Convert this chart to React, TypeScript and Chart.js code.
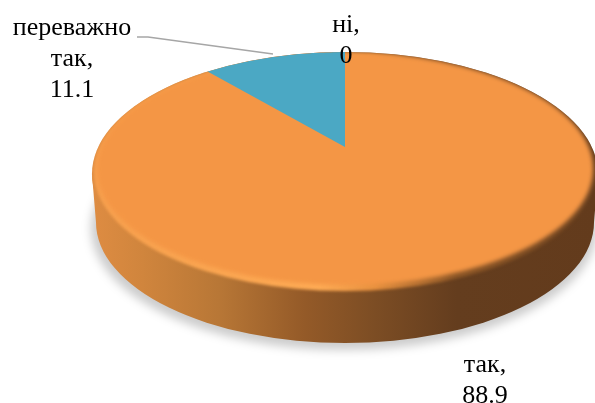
import React, { useEffect, useRef } from "react";
import { Chart, registerables } from "chart.js";

Chart.register(...registerables);

const categories = ["так", "переважно так", "ні"];
const values = [88.9, 11.1, 0];
const sliceColors = ["#F49645", "#4BA8C4", "#9BBB59"];

const W = 595;
const H = 403;
const PERSP = 0.2017;
const KX = 1.686;
const KY = 0.777;

type Lbl = { lines: string[]; x: number; y: number };
const labelLayout: Lbl[] = [
  { lines: ["так,", "88.9"], x: 485, y: 372 },
  { lines: ["переважно", "так,", "11.1"], x: 72, y: 35 },
  { lines: ["ні,", "0"], x: 346, y: 32 },
];

const piePlugin = {
  id: "perspectivePie",
  beforeDatasetsDraw(chart: any) {
    const ctx: CanvasRenderingContext2D = chart.ctx;
    const arcs = chart.getDatasetMeta(0).data;
    const { x: cx, y: cy, outerRadius: r } = arcs[0];
    const R = r * KX;
    const Q = r * KY;
    const den = 1 - PERSP * PERSP;
    const rx = R / Math.sqrt(den);
    const ry = Q / den;
    const ey = cy + (Q * PERSP) / den;
    const ell = (dy: number, drx = 0, dry = 0) => {
      ctx.beginPath();
      ctx.ellipse(cx, ey + dy, rx + drx, ry + dry, 0, 0, Math.PI * 2);
    };
    const pt = (a: number) => {
      const u = Math.cos(a);
      const v = Math.sin(a);
      const w = 1 - PERSP * v;
      return [cx + (R * u) / w, cy + (Q * v) / w];
    };

    // soft shadow
    ctx.save();
    ctx.filter = "blur(5px)";
    ctx.fillStyle = "rgba(0,0,0,0.2)";
    ctx.beginPath();
    ctx.ellipse(cx - 1, ey + 57, rx, ry + 3, 0, 0, Math.PI * 2);
    ctx.fill();
    ctx.restore();

    // side wall
    const side = ctx.createLinearGradient(cx - rx, 0, cx + rx, 0);
    side.addColorStop(0, "#DE8C42");
    side.addColorStop(0.1, "#D0853D");
    side.addColorStop(0.25, "#B87736");
    side.addColorStop(0.42, "#945A28");
    side.addColorStop(0.56, "#7C4D24");
    side.addColorStop(0.72, "#643D1E");
    side.addColorStop(1, "#633B1C");
    ctx.fillStyle = side;
    ctx.beginPath();
    ctx.moveTo(cx - rx, ey + 3);
    ctx.lineTo(cx - rx + 4, ey + 51);
    ctx.ellipse(cx, ey + 51, rx - 4, ry + 2, 0, Math.PI, 0, true);
    ctx.lineTo(cx + rx, ey + 3);
    ctx.closePath();
    ctx.fill();
    ell(3, 0, 3);
    ctx.fill();

    // bevel of the top face
    const rim = ctx.createLinearGradient(cx - rx, 0, cx + rx, 0);
    rim.addColorStop(0, "#F7A04E");
    rim.addColorStop(0.45, "#FFAC55");
    rim.addColorStop(0.56, "#E8913F");
    rim.addColorStop(0.72, "#8A5526");
    rim.addColorStop(1, "#6A4120");
    ctx.save();
    ell(3, 0, 3);
    ctx.clip();
    ctx.save();
    ctx.filter = "blur(1.5px)";
    ctx.fillStyle = rim;
    ell(1, -2, 0);
    ctx.fill();
    ctx.restore();
    ctx.save();
    ctx.filter = "blur(2px)";
    ctx.fillStyle = arcs[0].options.backgroundColor;
    ell(-2, -5, -3);
    ctx.fill();
    ctx.restore();

    // remaining slices, mapped from the library's arc angles
    arcs.forEach((el: any, i: number) => {
      if (i === 0 || el.endAngle - el.startAngle <= 0) return;
      ctx.fillStyle = el.options.backgroundColor;
      ctx.beginPath();
      ctx.moveTo(cx, cy);
      const n = 60;
      for (let k = 0; k <= n; k++) {
        const [px, py] = pt(el.startAngle + ((el.endAngle - el.startAngle) * k) / n);
        ctx.lineTo(px, py);
      }
      ctx.closePath();
      ctx.fill();
    });
    ctx.restore();
    return false;
  },
  afterDraw(chart: any) {
    const ctx: CanvasRenderingContext2D = chart.ctx;
    ctx.save();
    ctx.strokeStyle = "#A6A6A6";
    ctx.lineWidth = 1.3;
    ctx.beginPath();
    ctx.moveTo(137, 37);
    ctx.lineTo(148, 37);
    ctx.lineTo(273, 54);
    ctx.stroke();
    ctx.fillStyle = "#000";
    ctx.font = '26px "Liberation Serif"';
    ctx.textAlign = "center";
    ctx.textBaseline = "alphabetic";
    labelLayout.forEach((l) => {
      l.lines.forEach((t, i) => ctx.fillText(t, l.x, l.y + i * 31));
    });
    ctx.restore();
  },
};

export default function App() {
  const ref = useRef<HTMLCanvasElement>(null);
  useEffect(() => {
    document.body.style.margin = "0";
    const chart = new Chart(ref.current as HTMLCanvasElement, {
      type: "pie",
      data: {
        labels: categories,
        datasets: [{ data: values, backgroundColor: sliceColors, borderWidth: 0 }],
      },
      options: {
        responsive: false,
        animation: false,
        layout: { padding: { left: 95, right: 0, top: 0, bottom: 109 } },
        plugins: { legend: { display: false }, tooltip: { enabled: false } },
      },
      plugins: [piePlugin as any],
    });
    return () => chart.destroy();
  }, []);
  return <canvas ref={ref} width={W} height={H} style={{ display: "block" }} />;
}
